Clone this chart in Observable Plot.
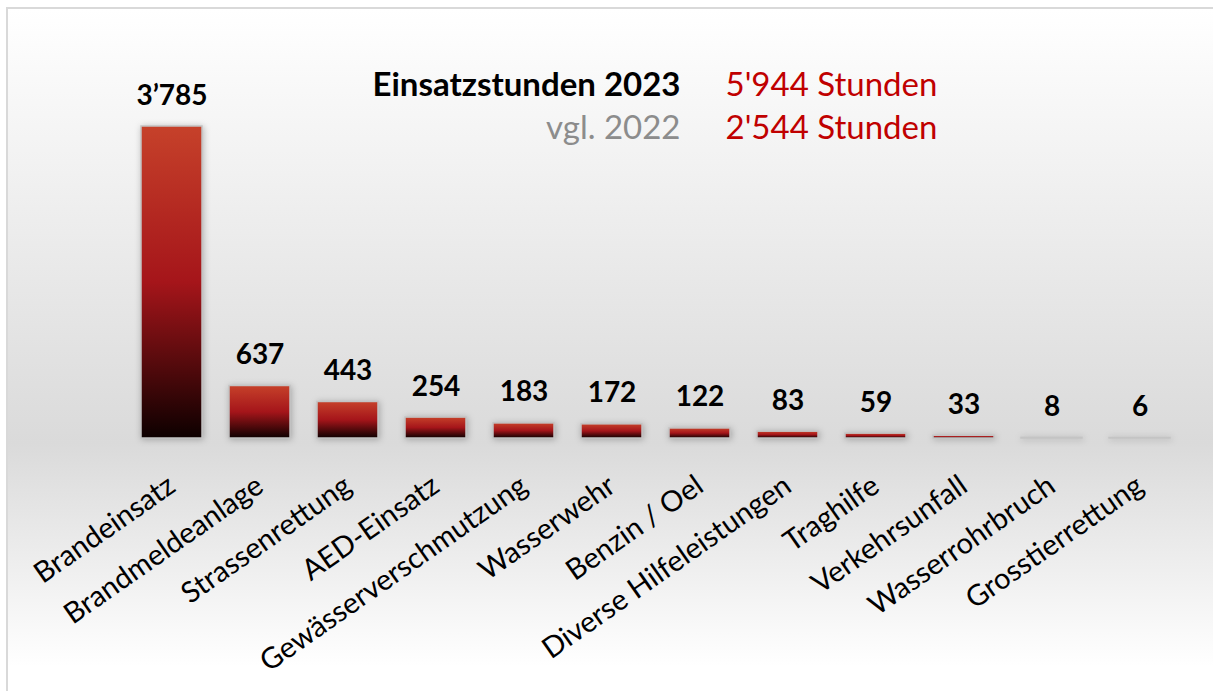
<!DOCTYPE html>
<html><head><meta charset="utf-8">
<script src="https://cdn.jsdelivr.net/npm/d3@7"></script>
<script src="https://cdn.jsdelivr.net/npm/@observablehq/plot@0.6"></script>
<style>
html,body{margin:0;padding:0;width:1213px;height:691px;overflow:hidden;background:#fff;}
#frame{position:absolute;left:6px;top:7px;width:1230px;height:700px;border-left:2px solid #d9d9d9;border-top:2px solid #d9d9d9;background:linear-gradient(to bottom,#ffffff 0%,#dadada 62%,#ffffff 94%);}
#chart{position:absolute;left:0;top:0;}
</style></head><body>
<div id="frame"></div><div id="chart"></div>
<script>
const categories = ["Brandeinsatz", "Brandmeldeanlage", "Strassenrettung", "AED-Einsatz", "Gewässerverschmutzung", "Wasserwehr", "Benzin / Oel", "Diverse Hilfeleistungen", "Traghilfe", "Verkehrsunfall", "Wasserrohrbruch", "Grosstierrettung"];
const hours = [3785, 637, 443, 254, 183, 172, 122, 83, 59, 33, 8, 6];
const headerLabels = ["Einsatzstunden 2023", "vgl. 2022"];
const headerValues = ["5'944 Stunden", "2'544 Stunden"];

const data = categories.map((c, i) => ({category: c, hours: hours[i]}));
const fmt = v => d3.format(",")(v).replace(/,/g, "’");

const defsMark = () => {
  const defs = d3.create("svg:defs");
  const g = defs.append("linearGradient").attr("id", "barGrad").attr("x1", 0).attr("y1", 0).attr("x2", 0).attr("y2", 1);
  g.append("stop").attr("offset", "0%").attr("stop-color", "#c6412a");
  g.append("stop").attr("offset", "50%").attr("stop-color", "#a5151a");
  g.append("stop").attr("offset", "100%").attr("stop-color", "#0d0000");
  return defs.node();
};

const chart = Plot.plot({
  width: 1213, height: 691,
  marginLeft: 111, marginRight: 12.5, marginTop: 126, marginBottom: 253,
  style: {background: "transparent", fontFamily: "Lato, sans-serif", color: "#000", overflow: "visible"},
  x: {domain: categories, padding: 0.31, label: null},
  y: {domain: [0, d3.max(hours)], axis: null},
  marks: [
    defsMark,
    Plot.barY(data, {x: "category", y: "hours", fill: "url(#barGrad)", stroke: "#c4c4c4", strokeWidth: 1.5,
      imageFilter: "drop-shadow(1px 1px 3px rgba(0,0,0,0.25))"}),
    Plot.text(data, {x: "category", y: "hours", text: d => fmt(d.hours), dy: -22, lineAnchor: "bottom",
      fontSize: 28, fontWeight: "bold", fill: "#000"}),
    Plot.axisX({tickSize: 0, tickPadding: 44, tickRotate: -35, fontSize: 29, label: null}),
    Plot.text([headerLabels[0]], {frameAnchor: "top-left", dx: 569, dy: -31, lineAnchor: "bottom", textAnchor: "end",
      fontSize: 33, fontWeight: "bold", fill: "#000"}),
    Plot.text([headerLabels[1]], {frameAnchor: "top-left", dx: 569, dy: 12, lineAnchor: "bottom", textAnchor: "end",
      fontSize: 33, fill: "#8c8c8c"}),
    Plot.text([headerValues[0]], {frameAnchor: "top-left", dx: 614, dy: -31, lineAnchor: "bottom", textAnchor: "start",
      fontSize: 33, fill: "#c00000"}),
    Plot.text([headerValues[1]], {frameAnchor: "top-left", dx: 614, dy: 12, lineAnchor: "bottom", textAnchor: "start",
      fontSize: 33, fill: "#c00000"})
  ]
});
document.getElementById("chart").appendChild(chart);
</script>
</body></html>
